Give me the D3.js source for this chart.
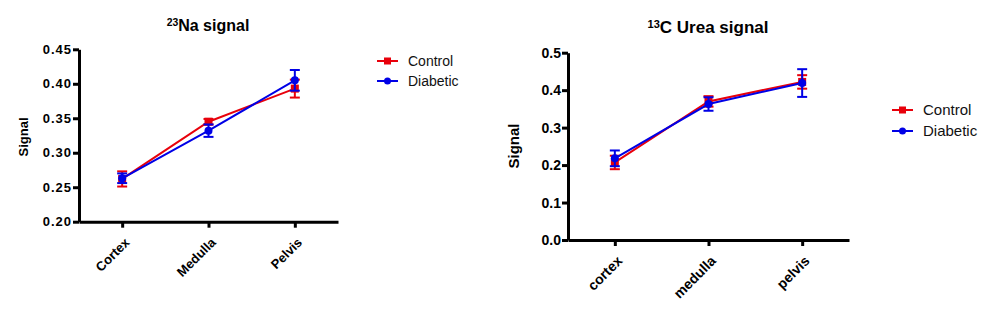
<!DOCTYPE html>
<html>
<head>
<meta charset="utf-8">
<script src="https://cdn.jsdelivr.net/npm/d3@7"></script>
<style>
  body { margin: 0; background: #fff; }
  svg { display: block; font-family: Arial, "Liberation Sans", sans-serif; }
</style>
</head>
<body>
<div id="chart"></div>
<script>
// Left panel: 23Na signal
const naCategories = ["Cortex", "Medulla", "Pelvis"];
const naControl = [0.262, 0.345, 0.393];
const naControlErr = [0.011, 0.004, 0.013];
const naDiabetic = [0.263, 0.332, 0.405];
const naDiabeticErr = [0.007, 0.009, 0.015];
const naTicks = [0.20, 0.25, 0.30, 0.35, 0.40, 0.45];

// Right panel: 13C urea signal
const ureaCategories = ["cortex", "medulla", "pelvis"];
const ureaControl = [0.207, 0.370, 0.422];
const ureaControlErr = [0.018, 0.014, 0.018];
const ureaDiabetic = [0.218, 0.363, 0.419];
const ureaDiabeticErr = [0.021, 0.018, 0.037];
const ureaTicks = [0.0, 0.1, 0.2, 0.3, 0.4, 0.5];

const seriesNames = ["Control", "Diabetic"];
const colors = ["#e8000b", "#0000e6"];

const svg = d3.select("#chart").append("svg")
  .attr("width", 994).attr("height", 311);

function drawPanel(p) {
  const g = svg.append("g");
  const x = d3.scalePoint().domain(p.categories).range([p.left, p.right]).padding(0.5);
  const y = d3.scaleLinear().domain(p.domain).range([p.bottom, p.top]);

  // axes
  const yAxis = g.append("g")
    .attr("transform", `translate(${p.left},0)`)
    .call(d3.axisLeft(y).tickValues(p.ticks).tickFormat(d3.format(p.fmt)).tickSize(6).tickPadding(1).tickSizeOuter(0));
  const xAxis = g.append("g")
    .attr("transform", `translate(0,${p.bottom})`)
    .call(d3.axisBottom(x).tickSize(6).tickSizeOuter(0));
  [yAxis, xAxis].forEach((a) => {
    a.select(".domain").attr("stroke", "#000").attr("stroke-width", 3);
    a.selectAll(".tick line").attr("stroke", "#000").attr("stroke-width", 3);
    a.selectAll("text").attr("fill", "#000").attr("font-weight", "bold")
      .attr("font-size", p.tickFont + "px");
  });
  yAxis.selectAll("text").attr("letter-spacing", p.tickSpacing);
  xAxis.selectAll("text")
    .attr("text-anchor", "end")
    .attr("dy", "0.35em")
    .attr("transform", "translate(-2,12) rotate(-45)");

  // series
  p.series.forEach((s, i) => {
    const c = colors[i];
    const pts = s.values.map((v, k) => ({ cat: p.categories[k], v, e: s.err[k] }));
    const sg = g.append("g");
    sg.append("path")
      .datum(pts)
      .attr("fill", "none").attr("stroke", c).attr("stroke-width", 2)
      .attr("d", d3.line().x((d) => x(d.cat)).y((d) => y(d.v)));
    const eb = sg.selectAll(".err").data(pts).join("g").attr("stroke", c).attr("stroke-width", 2);
    eb.append("line")
      .attr("x1", (d) => x(d.cat)).attr("x2", (d) => x(d.cat))
      .attr("y1", (d) => y(d.v - d.e)).attr("y2", (d) => y(d.v + d.e));
    [-1, 1].forEach((sgn) => {
      eb.append("line")
        .attr("x1", (d) => x(d.cat) - 5).attr("x2", (d) => x(d.cat) + 5)
        .attr("y1", (d) => y(d.v + sgn * d.e)).attr("y2", (d) => y(d.v + sgn * d.e));
    });
    if (i === 0) {
      sg.selectAll(".mk").data(pts).join("rect")
        .attr("x", (d) => x(d.cat) - 4).attr("y", (d) => y(d.v) - 4)
        .attr("width", 8).attr("height", 8).attr("fill", c);
    } else {
      sg.selectAll(".mk").data(pts).join("circle")
        .attr("cx", (d) => x(d.cat)).attr("cy", (d) => y(d.v))
        .attr("r", 4).attr("fill", c);
    }
  });

  // title
  const t = g.append("text")
    .attr("x", p.titleX).attr("y", p.titleY)
    .attr("text-anchor", "middle").attr("font-weight", "bold")
    .attr("font-size", p.titleFont + "px");
  t.append("tspan").attr("font-size", (p.titleFont * 0.65) + "px").attr("dy", "-0.45em").text(p.titleSup);
  t.append("tspan").attr("dy", "0.3em").text(p.titleMain);

  // y label
  g.append("text")
    .attr("transform", `translate(${p.ylabX},${p.ylabY}) rotate(-90)`)
    .attr("text-anchor", "middle").attr("font-weight", "bold")
    .attr("font-size", p.ylabFont + "px")
    .text("Signal");

  // legend
  seriesNames.forEach((name, i) => {
    const ly = p.legY + i * p.legGap;
    const lg = g.append("g");
    lg.append("line")
      .attr("x1", p.legX).attr("x2", p.legX + 21)
      .attr("y1", ly).attr("y2", ly)
      .attr("stroke", colors[i]).attr("stroke-width", 2);
    if (i === 0) {
      lg.append("rect").attr("x", p.legX + 7).attr("y", ly - 3.5)
        .attr("width", 7).attr("height", 7).attr("fill", colors[i]);
    } else {
      lg.append("circle").attr("cx", p.legX + 10.5).attr("cy", ly).attr("r", 3.5).attr("fill", colors[i]);
    }
    lg.append("text")
      .attr("x", p.legX + 31).attr("y", ly).attr("dy", "0.35em")
      .attr("font-size", p.legFont + "px").attr("fill", "#111")
      .text(name);
  });
}

drawPanel({
  categories: naCategories,
  series: [{ values: naControl, err: naControlErr }, { values: naDiabetic, err: naDiabeticErr }],
  domain: [0.2, 0.45], ticks: naTicks, fmt: ".2f",
  left: 79, right: 338, top: 49.3, bottom: 221.7,
  tickFont: 13, tickSpacing: "1px",
  titleX: 208, titleY: 31, titleSup: "23", titleMain: "Na signal", titleFont: 16,
  ylabX: 28, ylabY: 137, ylabFont: 13,
  legX: 377, legY: 61, legGap: 20, legFont: 14
});

drawPanel({
  categories: ureaCategories,
  series: [{ values: ureaControl, err: ureaControlErr }, { values: ureaDiabetic, err: ureaDiabeticErr }],
  domain: [0, 0.5], ticks: ureaTicks, fmt: ".1f",
  left: 568, right: 849, top: 52.7, bottom: 240,
  tickFont: 14, tickSpacing: "0px",
  titleX: 708, titleY: 33, titleSup: "13", titleMain: "C Urea signal", titleFont: 17,
  ylabX: 519, ylabY: 146, ylabFont: 15,
  legX: 892, legY: 110, legGap: 21, legFont: 15
});
</script>
</body>
</html>
